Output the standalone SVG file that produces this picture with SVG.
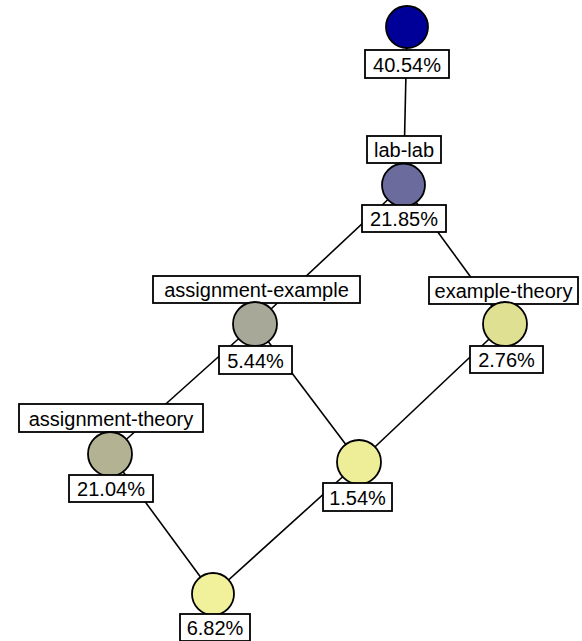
<svg xmlns="http://www.w3.org/2000/svg" width="582" height="641" viewBox="0 0 582 641">
<style>
.e{stroke:#000;stroke-width:1.6;fill:none}
.c{stroke:#000;stroke-width:1.8}
.b{fill:#fff;stroke:#000;stroke-width:1.8}
.t{font-family:"Liberation Sans",Arial,sans-serif;font-size:20px;fill:#000;text-anchor:middle}
</style>
<rect width="582" height="641" fill="#fff"/>
<g id="connectors">
<line class="e" x1="407" y1="27" x2="403.5" y2="185"/>
<line class="e" x1="403.5" y1="185" x2="255" y2="324"/>
<line class="e" x1="403.5" y1="185" x2="505" y2="324"/>
<line class="e" x1="255" y1="324" x2="110" y2="454"/>
<line class="e" x1="255" y1="324" x2="359" y2="462"/>
<line class="e" x1="505" y1="324" x2="359" y2="462"/>
<line class="e" x1="110" y1="454" x2="213" y2="594"/>
<line class="e" x1="359" y1="462" x2="213" y2="594"/>
</g>
<g id="n_top">
<circle class="c" cx="407" cy="27" r="21" fill="#000099"/>
<rect class="b" x="365" y="50" width="84" height="28"/>
<text class="t" x="407" y="72">40.54%</text>
</g>
<g id="n_lablab">
<rect class="b" x="367" y="136" width="74" height="27"/>
<text class="t" x="404" y="157">lab-lab</text>
<circle class="c" cx="403.5" cy="185" r="21.5" fill="#6b6b9e"/>
<rect class="b" x="362" y="205" width="84" height="27"/>
<text class="t" x="404" y="226">21.85%</text>
</g>
<g id="n_assign_example">
<rect class="b" x="153" y="276" width="207" height="27"/>
<text class="t" x="256.5" y="297">assignment-example</text>
<circle class="c" cx="255" cy="324" r="22" fill="#a8a898"/>
<rect class="b" x="219" y="346" width="73" height="28"/>
<text class="t" x="255.5" y="368">5.44%</text>
</g>
<g id="n_example_theory">
<rect class="b" x="429" y="277" width="149" height="27"/>
<text class="t" x="503.5" y="298">example-theory</text>
<circle class="c" cx="505" cy="324" r="22" fill="#e0e092"/>
<rect class="b" x="470" y="346" width="73" height="27"/>
<text class="t" x="506.5" y="367">2.76%</text>
</g>
<g id="n_assign_theory">
<rect class="b" x="19" y="404" width="184" height="28"/>
<text class="t" x="111" y="426">assignment-theory</text>
<circle class="c" cx="110" cy="454" r="22" fill="#b3b394"/>
<rect class="b" x="69" y="475" width="84" height="27"/>
<text class="t" x="111" y="496">21.04%</text>
</g>
<g id="n_154">
<circle class="c" cx="359" cy="462" r="22" fill="#eeee98"/>
<rect class="b" x="323" y="483" width="69" height="28"/>
<text class="t" x="357.5" y="505">1.54%</text>
</g>
<g id="n_bottom">
<circle class="c" cx="213" cy="594" r="21" fill="#f1f19c"/>
<rect class="b" x="180" y="614" width="70" height="27"/>
<text class="t" x="215" y="635">6.82%</text>
</g>
</svg>
